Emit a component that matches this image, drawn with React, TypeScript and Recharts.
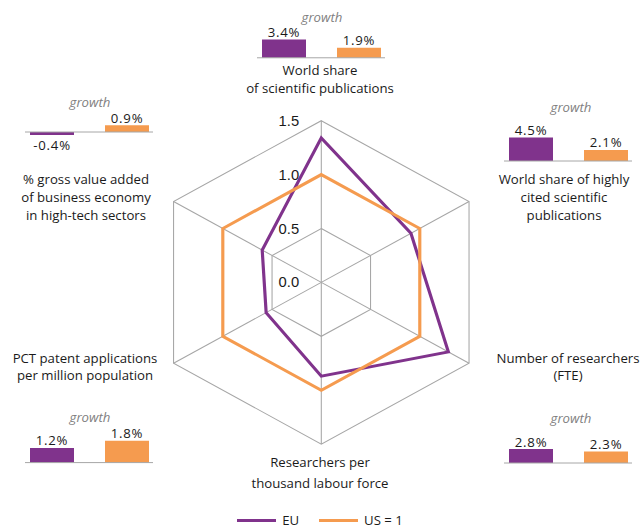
import {
  Bar,
  BarChart,
  Cell,
  LabelList,
  Legend,
  PolarAngleAxis,
  PolarGrid,
  PolarRadiusAxis,
  Radar,
  RadarChart,
  ReferenceLine,
  XAxis,
  YAxis,
} from "recharts";

// indicators, clockwise from the top
const indicatorLines = [
  ["World share", "of scientific publications"],
  ["World share of highly", "cited scientific", "publications"],
  ["Number of researchers", "(FTE)"],
  ["Researchers per", "thousand labour force"],
  ["PCT patent applications", "per million population"],
  ["% gross value added", "of business economy", "in high-tech sectors"],
];
const euIndex = [1.34, 0.91, 1.29, 0.87, 0.56, 0.6];
const usIndex = [1, 1, 1, 1, 1, 1];
const radialTicks = [0, 0.5, 1.0, 1.5];

// growth rates (%), null where no growth bars are shown
const euGrowth = [3.4, 4.5, 2.8, null, 1.2, -0.4];
const usGrowth = [1.9, 2.1, 2.3, null, 1.8, 0.9];
const seriesNames = ["EU", "US = 1"];

const PURPLE = "#80338c";
const ORANGE = "#f59b4f";
const GRID = "#a6a6a6";
const FONT = "'Open Sans', sans-serif";

const CX = 321.3;
const CY = 282.4;
const R = 161.7;

const labelBoxes = [
  { cx: 320, top: 62, lh: 17.5 },
  { cx: 564, top: 170, lh: 18 },
  { cx: 568, top: 350, lh: 17 },
  { cx: 320, top: 452, lh: 20.5 },
  { cx: 85, top: 349.5, lh: 17 },
  { cx: 86, top: 170, lh: 18 },
];

// first bar centre, baseline, px per %, growth label centre
const barBoxes = [
  { x1: 283, base: 58, s: 5.35, gx: 322, gy: 16.5 },
  { x1: 530, base: 161, s: 5.25, gx: 571, gy: 107 },
  { x1: 530, base: 463, s: 5.0, gx: 571, gy: 418 },
  null,
  { x1: 51, base: 463, s: 12.2, gx: 90, gy: 417 },
  { x1: 51, base: 132.3, s: 7.5, gx: 90, gy: 102 },
];

const radarData = indicatorLines.map((lines, i) => ({
  name: lines.join(" "),
  eu: euIndex[i],
  us: usIndex[i],
}));

const renderRadiusTick = (props: any) => {
  const { x, y, payload } = props;
  return (
    <text
      x={x - 21}
      y={y}
      dy="0.36em"
      textAnchor="end"
      fontSize={14}
      fontFamily="'Liberation Sans', Arial, sans-serif"
      fill="#1a1a1a"
    >
      {Number(payload.value).toFixed(1)}
    </text>
  );
};

const renderLegend = (props: any) => (
  <div
    style={{
      display: "flex",
      justifyContent: "center",
      fontFamily: FONT,
      fontSize: 13.2,
      color: "#1a1a1a",
    }}
  >
    {(props.payload || []).map((p: any, i: number) => (
      <div
        key={p.value}
        style={{ display: "flex", alignItems: "center", marginLeft: i ? 20 : 0 }}
      >
        <span
          style={{ width: 39, height: 3, background: p.color, marginRight: 6 }}
        />
        <span>{p.value}</span>
      </div>
    ))}
  </div>
);

const renderValueLabel = (props: any) => {
  const { x, y, width, height, value } = props;
  const v = Number(value);
  const top = Math.min(y, y + height);
  const bottom = Math.max(y, y + height);
  const cx = x + width / 2;
  return (
    <text
      x={cx}
      y={v < 0 ? bottom + 15 : top - 2.5}
      textAnchor="middle"
      fontSize={13.2}
      fontFamily={FONT}
      letterSpacing={0.8}
      fill="#1a1a1a"
    >
      {v.toFixed(1)}%
    </text>
  );
};

function GrowthBars({ i }: { i: number }) {
  const box = barBoxes[i];
  const eu = euGrowth[i];
  const us = usGrowth[i];
  if (!box || eu === null || us === null) return null;
  const data = [
    { name: "EU", value: eu },
    { name: "US", value: us },
  ];
  const hi = 8;
  const lo = -4;
  const spacing = 75;
  const w = spacing * 2;
  const h = (hi - lo) * box.s;
  const trim = 11;
  return (
    <>
      <div
        style={{
          position: "absolute",
          left: box.gx - 40,
          width: 80,
          top: box.gy - 10,
          lineHeight: "20px",
          textAlign: "center",
          fontFamily: FONT,
          fontSize: 13.2,
          fontStyle: "italic",
          color: "#7f7f7f",
        }}
      >
        growth
      </div>
      <div
        style={{
          position: "absolute",
          left: box.x1 - spacing / 2,
          top: box.base - hi * box.s,
        }}
      >
        <BarChart
          width={w}
          height={h}
          data={data}
          margin={{ top: 0, right: 0, bottom: 0, left: 0 }}
          barSize={44}
        >
          <XAxis dataKey="name" hide />
          <YAxis hide domain={[lo, hi]} />
          <Bar dataKey="value" isAnimationActive={false}>
            {data.map((d) => (
              <Cell key={d.name} fill={d.name === "EU" ? PURPLE : ORANGE} />
            ))}
            <LabelList dataKey="value" content={renderValueLabel} />
          </Bar>
          <ReferenceLine
            y={0}
            stroke={GRID}
            shape={(p: any) => (
              <line
                x1={p.x1 + trim}
                x2={p.x2 - trim}
                y1={p.y1}
                y2={p.y2}
                stroke={GRID}
                strokeWidth={1}
              />
            )}
          />
        </BarChart>
      </div>
    </>
  );
}

export default function App() {
  return (
    <div
      style={{
        position: "absolute",
        left: 0,
        top: 0,
        width: 640,
        height: 528,
        background: "#fff",
        overflow: "hidden",
      }}
    >
      <style>{`.radar-wrap .recharts-surface { transform: scaleX(1.055); transform-origin: ${CX}px ${CY}px; }`}</style>
      <div className="radar-wrap" style={{ position: "absolute", left: 0, top: 0 }}>
        <RadarChart
          width={640}
          height={528}
          data={radarData}
          cx={CX}
          cy={CY}
          outerRadius={R}
          startAngle={90}
          endAngle={-270}
          margin={{ top: 0, right: 0, bottom: 0, left: 0 }}
        >
          <PolarGrid gridType="polygon" stroke={GRID} strokeOpacity={1} />
          <PolarAngleAxis dataKey="name" tick={false} axisLine={false} tickLine={false} />
          <PolarRadiusAxis
            type="number"
            angle={90}
            domain={[radialTicks[0], radialTicks[radialTicks.length - 1]]}
            ticks={radialTicks as any}
            tickCount={radialTicks.length}
            allowDecimals
            allowDataOverflow
            axisLine={false}
            tickLine={false}
            tick={renderRadiusTick}
          />
          <Radar
            name={seriesNames[0]}
            dataKey="eu"
            stroke={PURPLE}
            strokeWidth={3}
            fill="none"
            fillOpacity={0}
            dot={false}
            isAnimationActive={false}
          />
          <Radar
            name={seriesNames[1]}
            dataKey="us"
            stroke={ORANGE}
            strokeWidth={3}
            fill="none"
            fillOpacity={0}
            dot={false}
            isAnimationActive={false}
          />
          <Legend
            content={renderLegend}
            wrapperStyle={{ position: "absolute", left: 0, top: 511, width: 640 }}
          />
        </RadarChart>
      </div>
      {indicatorLines.map((lines, i) => (
        <div
          key={i}
          style={{
            position: "absolute",
            left: labelBoxes[i].cx - 90,
            width: 180,
            top: labelBoxes[i].top,
            lineHeight: `${labelBoxes[i].lh}px`,
            textAlign: "center",
            fontFamily: FONT,
            fontSize: 13.2,
            color: "#1a1a1a",
            whiteSpace: "nowrap",
          }}
        >
          {lines.map((l) => (
            <div key={l}>{l}</div>
          ))}
        </div>
      ))}
      {indicatorLines.map((_, i) => (
        <GrowthBars key={i} i={i} />
      ))}
    </div>
  );
}
